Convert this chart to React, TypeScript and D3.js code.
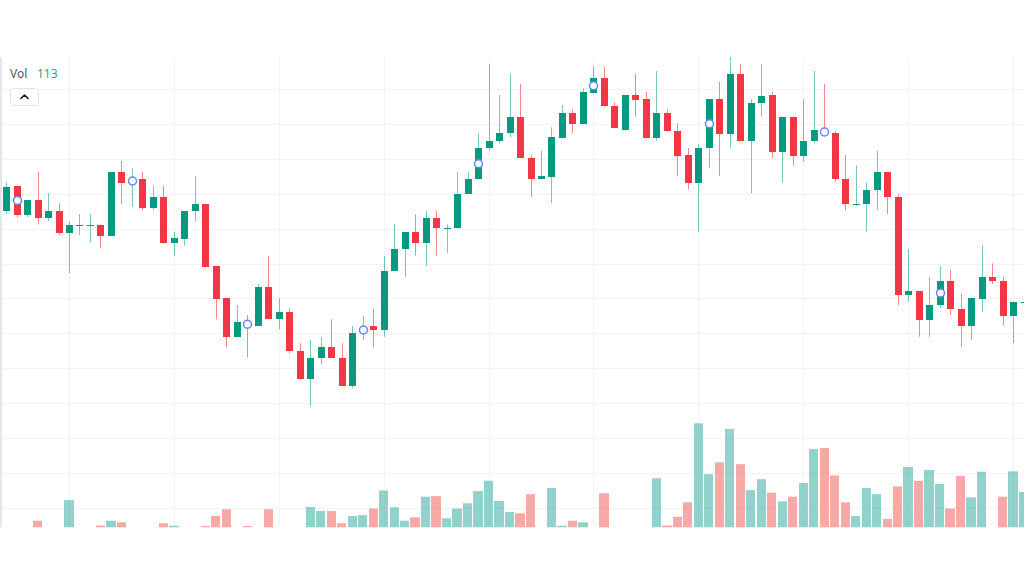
import React from 'react';
import * as d3 from 'd3';

// OHLC prices (arbitrary price units), one entry per bar
const opens = [38.90,41.40,38.50,40.00,38.17,38.93,36.73,37.45,37.47,37.53,36.43,42.77,41.60,42.07,39.23,40.33,35.73,36.10,38.93,39.60,33.40,30.17,26.27,27.90,27.40,31.27,28.07,28.83,24.93,22.10,24.23,25.27,24.23,21.40,26.70,27.43,27.00,32.93,35.10,36.77,35.73,38.23,37.13,37.17,40.60,42.07,45.17,45.90,46.67,48.33,44.17,42.07,42.33,46.17,48.73,47.60,50.67,52.17,49.43,47.00,50.50,50.07,46.17,48.73,46.93,44.47,41.73,45.17,50.07,46.60,52.57,45.90,49.73,50.50,44.83,48.33,44.40,45.90,47.10,46.67,42.07,39.53,39.57,41.00,42.77,40.33,30.50,30.90,28.00,29.47,31.93,29.10,27.40,30.10,32.33,31.93,28.40,29.75];
const highs = [41.77,41.40,40.00,42.83,40.67,39.67,37.83,38.60,38.60,37.53,42.83,43.90,43.17,42.83,41.40,41.40,36.83,38.93,42.40,39.60,33.40,30.17,29.50,28.47,31.60,34.40,30.17,29.17,25.67,26.00,26.33,28.07,25.67,27.43,28.43,29.10,34.40,37.57,36.77,38.57,38.93,38.93,37.57,42.77,42.77,46.67,53.60,50.50,52.60,51.60,44.50,44.90,47.27,49.50,49.07,51.17,53.33,53.33,49.77,50.50,52.60,50.83,52.90,49.07,47.67,45.17,45.57,50.07,51.83,54.33,53.60,50.07,53.60,50.83,48.33,48.33,50.07,52.90,51.60,46.93,44.50,43.43,41.73,44.93,42.77,40.60,35.10,30.90,32.33,33.40,33.00,30.60,30.17,35.50,33.67,32.33,29.83,33.33];
const lows = [38.60,38.27,38.27,37.57,37.90,36.50,32.67,36.50,35.77,35.17,36.43,39.60,39.33,39.00,39.00,35.73,34.43,35.43,37.83,33.33,28.07,25.27,26.27,24.27,27.40,28.07,27.07,24.67,22.10,19.40,23.60,24.20,21.40,21.17,26.00,25.27,26.33,32.93,32.33,34.43,33.40,34.43,34.73,37.17,40.60,42.07,44.93,45.67,46.27,44.17,40.33,42.07,39.67,46.17,46.67,47.60,50.67,49.40,47.23,46.93,48.33,46.17,45.93,46.93,42.40,41.07,36.83,43.17,42.40,45.23,45.90,40.67,48.33,44.17,41.77,43.43,43.83,45.67,46.50,41.83,39.00,39.40,36.83,39.00,38.60,29.50,29.83,26.33,26.33,29.17,28.50,25.27,26.00,28.83,31.60,27.43,25.67,29.17];
const closes = [41.33,38.50,40.00,38.23,38.93,36.73,37.50,37.50,37.50,36.43,42.77,41.73,42.20,39.23,40.33,35.73,36.17,38.93,39.60,33.33,30.10,26.27,27.77,27.25,31.27,28.07,28.83,24.93,22.10,24.23,25.27,24.20,21.40,26.67,27.30,27.00,32.93,35.10,36.77,35.73,38.23,37.17,37.17,40.60,42.07,45.17,45.93,46.67,48.33,44.17,42.07,42.40,46.27,48.73,47.60,50.83,52.17,49.40,47.23,50.50,50.00,46.17,48.73,46.93,44.40,41.73,45.17,50.07,46.60,52.57,45.90,49.73,50.43,44.83,48.33,44.40,45.93,47.00,46.50,42.07,39.57,39.57,41.00,42.77,40.33,30.50,30.90,28.00,29.50,31.93,29.07,27.40,30.17,32.33,31.90,28.40,29.83,29.83];
const volumes = [0,0,0,21,0,0,87,0,0,6,21,16,0,0,0,13,5,0,0,4,36,58,0,4,0,58,0,0,0,65,52,52,13,36,39,60,118,64,21,32,98,100,29,60,77,116,149,84,49,45,106,0,126,5,21,16,0,109,0,0,0,0,157,6,34,80,333,170,208,315,202,119,154,111,83,98,142,251,254,166,80,36,126,106,27,131,193,149,184,139,60,164,96,178,0,98,179,113];
// bars carrying a circle marker
const markerBars = [1, 12, 23, 34, 45, 56, 67, 78, 89];

const UP = '#089981';
const DOWN = '#f23645';
const UP_WICK = 'rgba(8,153,129,0.55)';
const DOWN_WICK = 'rgba(242,54,69,0.6)';
const UP_VOL = 'rgba(38,166,154,0.5)';
const DOWN_VOL = 'rgba(239,83,80,0.5)';

export default function App() {
  const W = 1024, H = 584;
  const paneTop = 57, paneBottom = 527.3;
  const n = opens.length;
  const spacing = 10.489;
  const x = d3.scaleLinear().domain([0, n - 1]).range([6.07, 6.07 + (n - 1) * spacing]);
  const y = d3.scaleLinear().domain([7.27, 54.3]).range([paneBottom, paneTop]);
  const v = d3.scaleLinear().domain([0, d3.max(volumes) as number]).range([paneBottom, 423.3]);

  const hGrid = d3.range(13).map(k => 89.3 + k * 34.86);
  const vGrid = d3.range(6, n, 10);

  const bodyW = 7;

  return (
    <div style={{ position: 'absolute', left: 0, top: 0, width: W, height: H, background: '#fff' }}>
      <svg width={W} height={H} style={{ display: 'block' }}>
        <rect x={0} y={0} width={W} height={H} fill="#ffffff" />
        {/* grid */}
        {hGrid.map((gy, k) => (
          <line key={'h' + k} x1={2} x2={W} y1={Math.round(gy) + 0.5} y2={Math.round(gy) + 0.5} stroke="#f2f3f7" strokeWidth={1} />
        ))}
        {vGrid.map(i => (
          <line key={'v' + i} x1={Math.round(x(i)) + 0.5} x2={Math.round(x(i)) + 0.5} y1={paneTop} y2={paneBottom} stroke="#f2f3f7" strokeWidth={1} />
        ))}
        {/* left border */}
        <rect x={0} y={paneTop} width={2} height={paneBottom - paneTop} fill="#e3e6ec" />
        {/* volume */}
        {volumes.map((vol, i) => {
          if (vol <= 0) return null;
          const cx = x(i);
          const l = Math.round(cx - spacing / 2 + 0.6);
          const r = Math.round(cx + spacing / 2 - 0.6);
          const top = v(vol);
          const up = closes[i] >= opens[i];
          return <rect key={'vol' + i} x={l} y={top} width={r - l} height={paneBottom - top} fill={up ? UP_VOL : DOWN_VOL} />;
        })}
        {/* wicks */}
        {opens.map((o, i) => {
          const up = closes[i] >= o;
          const cx = Math.round(x(i));
          const t = y(highs[i]);
          const b = y(lows[i]);
          return <rect key={'w' + i} x={cx} y={t} width={1} height={Math.max(1, b - t)} fill={up ? UP_WICK : DOWN_WICK} />;
        })}
        {/* bodies */}
        {opens.map((o, i) => {
          const c = closes[i];
          const up = c >= o;
          const cx = Math.round(x(i));
          const top = Math.round(y(Math.max(o, c)));
          const bot = Math.round(y(Math.min(o, c)));
          return <rect key={'b' + i} x={cx - 3} y={top} width={bodyW} height={Math.max(1, bot - top)} fill={up ? UP : DOWN} />;
        })}
        {/* markers */}
        {markerBars.map(i => (
          <circle key={'m' + i} cx={Math.round(x(i)) + 0.5} cy={y((opens[i] + closes[i]) / 2)} r={4} fill="#ffffff" stroke="#6384f8" strokeWidth={1.5} />
        ))}
        {/* legend */}
        <text x={10} y={77.5} fontFamily="'Noto Sans', sans-serif" fontSize={12} fill="#555861">Vol</text>
        <text x={37} y={77.5} fontFamily="'Noto Sans', sans-serif" fontSize={12} fill="#26a69a">{volumes[n - 1]}</text>
        <rect x={10.5} y={88.5} width={28} height={17} rx={3} fill="#ffffff" stroke="#e0e3eb" strokeWidth={1} />
        <path d="M21 98.5 L24.5 95 L28 98.5" fill="none" stroke="#131722" strokeWidth={1.6} strokeLinecap="round" strokeLinejoin="round" />
      </svg>
    </div>
  );
}
